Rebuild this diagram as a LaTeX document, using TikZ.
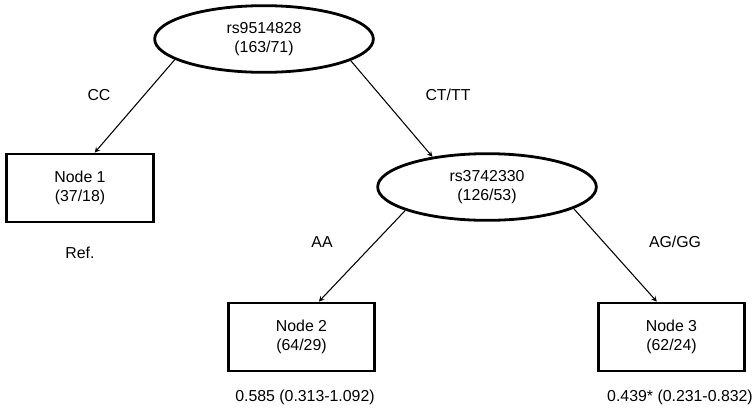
\documentclass[tikz,border=0pt]{standalone}
\usepackage{fontspec}
\setmainfont{Liberation Sans}
\usetikzlibrary{shapes.geometric}
\begin{document}
\begin{tikzpicture}[>=stealth, x=0.75pt, y=-0.75pt,
	font=\fontsize{11.9pt}{14.8pt}\selectfont,
	split/.style={draw,ellipse,line width=2.1pt,inner sep=0pt,minimum width=164pt,minimum height=50pt,align=center},
	leaf/.style={draw,rectangle,line width=2.1pt,minimum width=110pt,minimum height=51pt,align=center},
	edge/.style={->,line width=0.8pt}]
	
	\useasboundingbox (0,0) rectangle (755,411);
	
	% ellipszisek
	\node[split] (rs1) at (264,39) {rs9514828\\(163/71)};
	\node[split] (rs2) at (487,187) {rs3742330\\(126/53)};
	
	% levelek
	\node[leaf] (n1) at (80,188) {Node 1\\(37/18)};
	\node[leaf] (n2) at (301.5,337) {Node 2\\(64/29)};
	\node[leaf] (n3) at (671.5,337) {Node 3\\(62/24)};
	
	% nyilak
	\draw [edge] (rs1.193) -- ([xshift=11pt]n1.north);
	\draw [edge] (rs1.346) -- (rs2.151);
	\draw [edge] (rs2.196) -- ([xshift=13pt]n2.north);
	\draw [edge] (rs2.346) -- ([xshift=-11pt]n3.north);
	
	% feliratok
	\node (cc) at (99,95) {CC};
	\node (cttt) at (448,95) {CT/TT};
	\node (aa) at (322,242) {AA};
	\node (aggg) at (675,242) {AG/GG};
	\node (ref) at (80,253) {Ref.};
	\node (or2) at (305,397) {0.585 (0.313-1.092)};
	\node (or3) at (680,397) {0.439* (0.231-0.832)};
\end{tikzpicture}
\end{document}
